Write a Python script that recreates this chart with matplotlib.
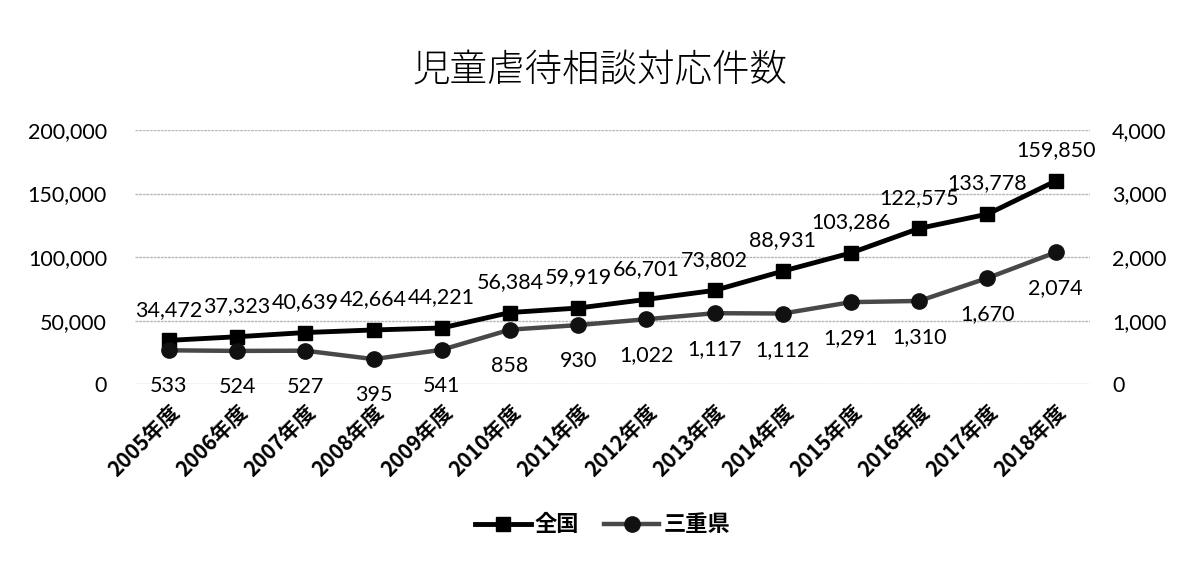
import matplotlib
matplotlib.use("Agg")
import matplotlib.pyplot as plt
from matplotlib.ticker import FuncFormatter

plt.rcParams['font.family'] = ['Lato', 'Noto Sans CJK JP', 'DejaVu Sans']

title = "児童虐待相談対応件数"
years = ["2005年度", "2006年度", "2007年度", "2008年度", "2009年度", "2010年度", "2011年度",
         "2012年度", "2013年度", "2014年度", "2015年度", "2016年度", "2017年度", "2018年度"]
national = [34472, 37323, 40639, 42664, 44221, 56384, 59919, 66701, 73802, 88931,
            103286, 122575, 133778, 159850]
mie = [533, 524, 527, 395, 541, 858, 930, 1022, 1117, 1112, 1291, 1310, 1670, 2074]
series_names = ["全国", "三重県"]

fig = plt.figure(figsize=(11.82, 5.65), dpi=100)
ax = fig.add_axes([0.114, 0.320, 0.808, 0.450])
ax2 = ax.twinx()

x = list(range(len(years)))
l1, = ax.plot(x, national, color='black', lw=3.5, marker='s', markersize=10,
              markerfacecolor='black', markeredgecolor='black', zorder=5, label=series_names[0])
l2, = ax2.plot(x, mie, color='#484848', lw=3.2, marker='o', markersize=11,
               markerfacecolor='#111111', markeredgecolor='#111111', zorder=5, label=series_names[1])

ax.set_xlim(-0.5, len(years) - 0.5)
ax.set_ylim(0, 200000)
ax2.set_ylim(0, 4000)
ax.set_yticks([0, 50000, 100000, 150000, 200000])
ax2.set_yticks([0, 1000, 2000, 3000, 4000])
fmt = FuncFormatter(lambda v, p: f"{int(v):,}")
ax.yaxis.set_major_formatter(fmt)
ax2.yaxis.set_major_formatter(fmt)
ax.grid(axis='y', color='#b8b8b8', lw=1.0, linestyle=(0, (2, 0.6)))
ax.set_axisbelow(True)
for a in (ax, ax2):
    for s in a.spines.values():
        s.set_visible(False)
ax.tick_params(axis='y', length=0, pad=20, labelsize=15.5)
ax2.tick_params(axis='y', length=0, pad=16, labelsize=15.5)
ax.set_xticks(x)
ax.set_xticklabels(years, rotation=45, ha='right', rotation_mode='anchor',
                   fontsize=15, fontweight='bold',
                   family=['Noto Sans CJK JP', 'DejaVu Sans'])
ax.tick_params(axis='x', length=0, pad=12)

for xi, v in zip(x, national):
    ax.annotate(f"{v:,}", (xi, v), xytext=(0, 22), textcoords='offset points',
                ha='center', va='center', fontsize=15.5, color='black', zorder=6)
for xi, v in zip(x, mie):
    ax2.annotate(f"{v:,}", (xi, v), xytext=(0, -26), textcoords='offset points',
                 ha='center', va='center', fontsize=15.5, color='black', zorder=6)

fig.text(0.508, 0.876, title, ha='center', va='center', fontsize=27,
         family=['Noto Sans CJK JP', 'DejaVu Sans'], fontweight='light')

leg = fig.legend([l1, l2], series_names, loc='center', bbox_to_anchor=(0.510, 0.071),
                 ncol=2, frameon=False, handlelength=2.5, handletextpad=0.2, columnspacing=1.1,
                 prop={'family': ['Noto Sans CJK JP', 'DejaVu Sans'], 'size': 16, 'weight': 'bold'})

fig.savefig("out.png", dpi=100)
